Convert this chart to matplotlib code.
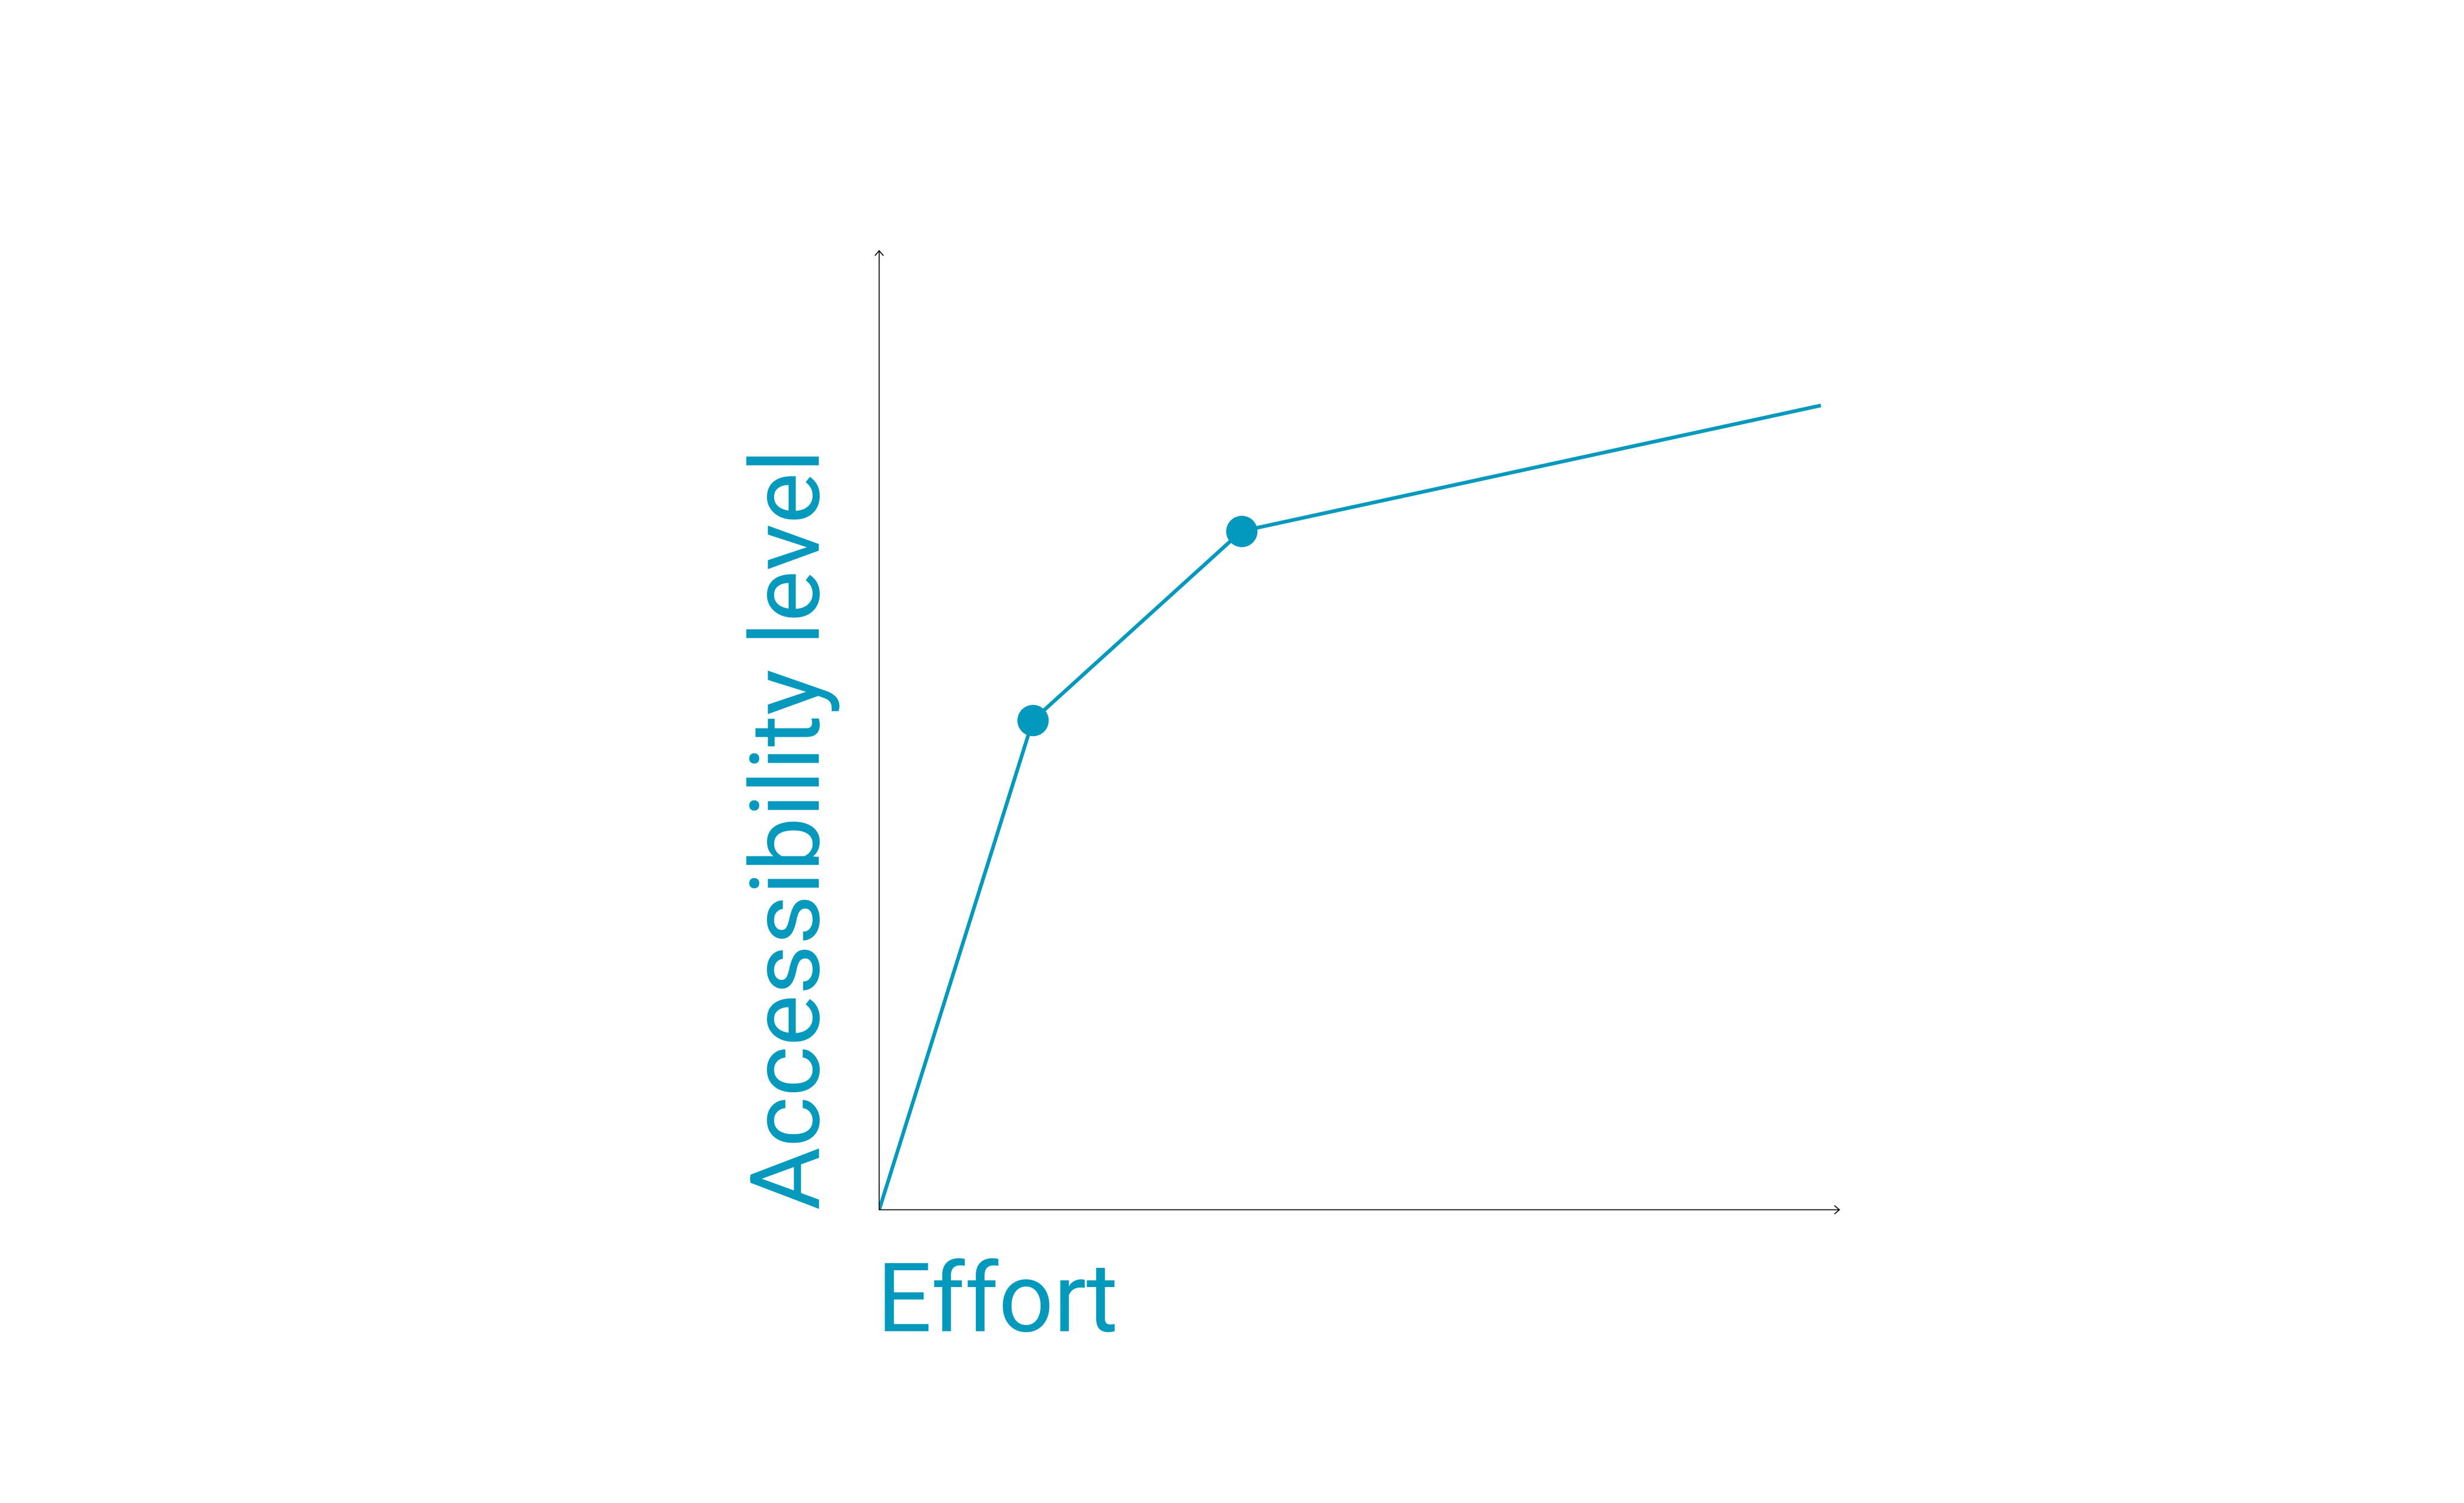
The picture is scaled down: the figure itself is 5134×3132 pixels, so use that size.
import matplotlib
matplotlib.use('Agg')
import matplotlib.pyplot as plt

# Data (axes run 0..10 on both sides)
effort = [0, 1.6, 3.77, 9.8]
access = [0, 5.1, 7.07, 8.38]
marked = [1, 2]  # points drawn with a dot

teal = '#0399bd'
plt.rcParams['font.family'] = ['Roboto', 'DejaVu Sans']

fig = plt.figure(figsize=(51.34, 31.32), dpi=100)
ax = fig.add_axes([0.3568, 0.1951, 0.39, 0.6386])

ax.plot(effort, access, color=teal, linewidth=5.5, solid_capstyle='butt',
        marker='o', markersize=46, markevery=marked, zorder=3)

ax.set_xlim(0, 10)
ax.set_ylim(0, 10)
for s in ax.spines.values():
    s.set_visible(False)
ax.set_xticks([])
ax.set_yticks([])

# axis arrows
arrow = dict(arrowstyle='->,head_length=0.35,head_width=0.3', color='black',
             lw=1.5, mutation_scale=20, shrinkA=0, shrinkB=0)
ax.annotate('', xy=(1, 0), xytext=(0, 0), xycoords='axes fraction', arrowprops=arrow)
ax.annotate('', xy=(0, 1), xytext=(0, 0), xycoords='axes fraction', arrowprops=arrow)

fig.text(0.3558, 0.1143, 'Effort', color=teal, fontsize=145,
         ha='left', va='baseline')
fig.text(0.3325, 0.1951, 'Accessibility level', color=teal, fontsize=145,
         rotation=90, rotation_mode='anchor', ha='left', va='baseline')

fig.savefig('out.png', dpi=100)
